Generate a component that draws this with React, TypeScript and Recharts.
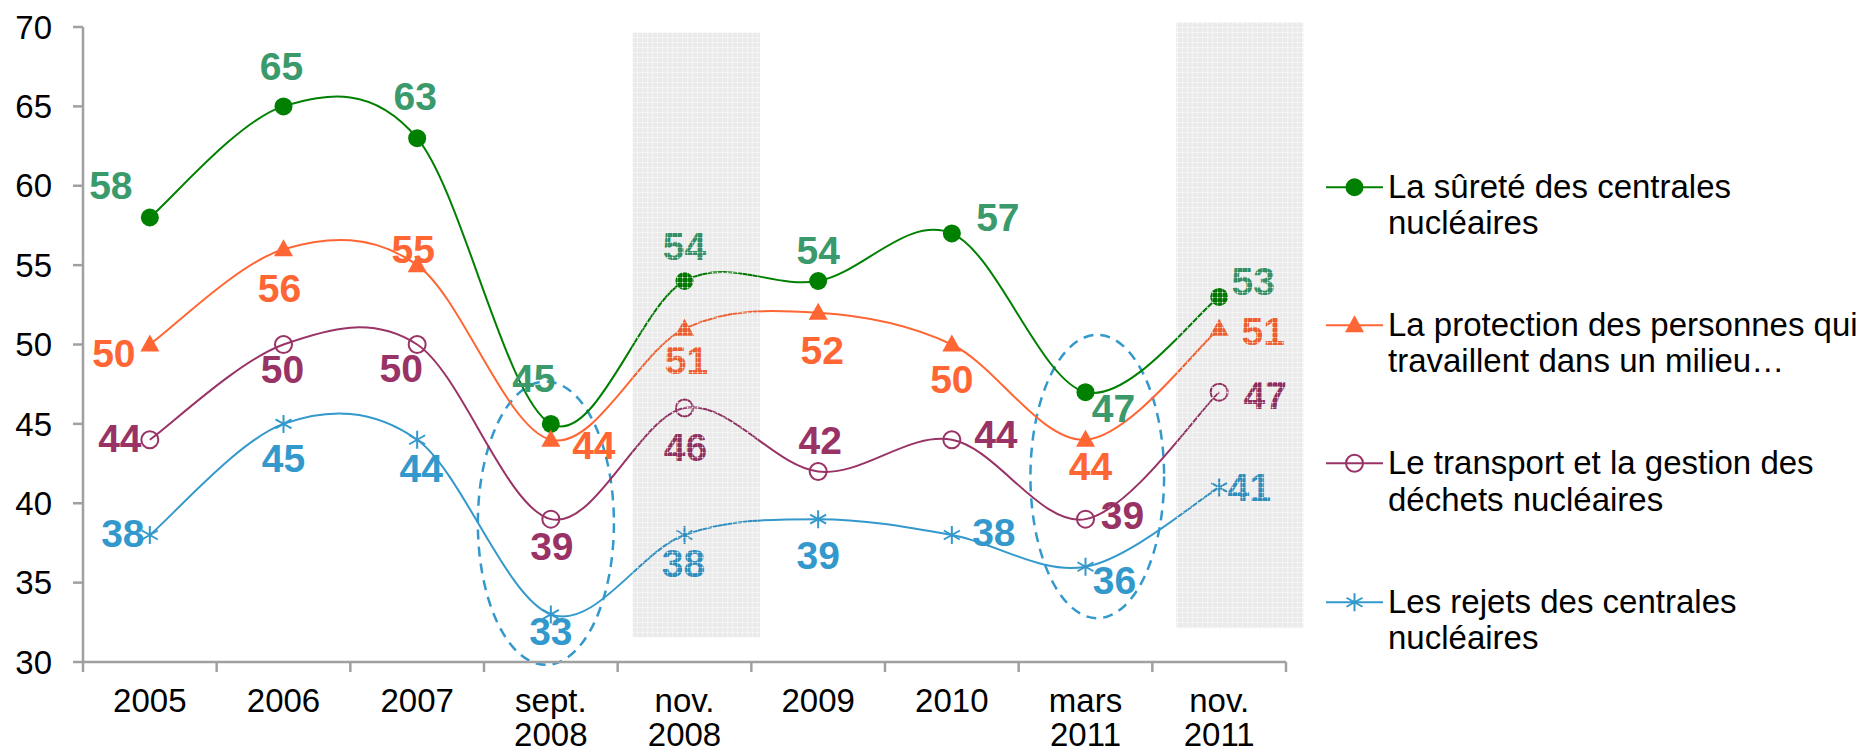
import React from 'react'
import { LineChart, Line, XAxis, YAxis, ReferenceArea } from 'recharts'

const categories = ['2005', '2006', '2007', 'sept.\n2008', 'nov.\n2008', '2009', '2010', 'mars\n2011', 'nov.\n2011']
const surete = [58, 65, 63, 45, 54, 54, 57, 47, 53]
const protection = [50, 56, 55, 44, 51, 52, 50, 44, 51]
const transport = [44, 50, 50, 39, 46, 42, 44, 39, 47]
const rejets = [38, 45, 44, 33, 38, 39, 38, 36, 41]
const yTicks = [30, 35, 40, 45, 50, 55, 60, 65, 70]

const legendSurete = ['La sûreté des centrales', 'nucléaires']
const legendProtection = ['La protection des personnes qui', 'travaillent dans un milieu…']
const legendTransport = ['Le transport et la gestion des', 'déchets nucléaires']
const legendRejets = ['Les rejets des centrales', 'nucléaires']

// where each value label sits relative to its point (px)
const offSurete = [[-39, -32], [-2, -40], [-2, -42], [-17, -46], [0, -35], [0, -31], [46, -16], [28, 16], [34, -16]]
const offProtection = [[-36, 9], [-4, 39], [-4, -16], [43, 6], [2, 32], [4, 38], [0, 35], [5, 27], [44, 3]]
const offTransport = [[-30, -1], [-1, 25], [-16, 24], [1, 27], [1, 39], [2, -31], [44, -5], [37, -4], [46, 3]]
const offRejets = [[-27, -2], [0, 34], [4, 29], [0, 17], [-1, 28], [0, 36], [42, -3], [29, 14], [30, 0]]

const data = categories.map((cat, i) => ({
  cat,
  surete: surete[i],
  protection: protection[i],
  transport: transport[i],
  rejets: rejets[i],
}))

const FONT = '"Liberation Sans", Arial, sans-serif'
const AXIS = '#A0A0A0'

const series = [
  { key: 'surete', legend: legendSurete, line: '#008000', text: '#3A9A6C', marker: 'dot', offsets: offSurete },
  { key: 'protection', legend: legendProtection, line: '#FF6633', text: '#FF6633', marker: 'triangle', offsets: offProtection },
  { key: 'transport', legend: legendTransport, line: '#993366', text: '#993366', marker: 'ring', offsets: offTransport },
  { key: 'rejets', legend: legendRejets, line: '#3399CC', text: '#3399CC', marker: 'star', offsets: offRejets },
]

// Excel-like smoothing (Catmull-Rom through every point)
function excelSmooth(context: any) {
  let pts: number[][] = []
  return {
    areaStart() {},
    areaEnd() {},
    lineStart() {
      pts = []
    },
    point(x: number, y: number) {
      pts.push([+x, +y])
    },
    lineEnd() {
      if (!pts.length) return
      context.moveTo(pts[0][0], pts[0][1])
      for (let i = 0; i < pts.length - 1; i++) {
        const p0 = pts[Math.max(i - 1, 0)]
        const p1 = pts[i]
        const p2 = pts[i + 1]
        const p3 = pts[Math.min(i + 2, pts.length - 1)]
        context.bezierCurveTo(
          p1[0] + (p2[0] - p0[0]) / 6,
          p1[1] + (p2[1] - p0[1]) / 6,
          p2[0] - (p3[0] - p1[0]) / 6,
          p2[1] - (p3[1] - p1[1]) / 6,
          p2[0],
          p2[1],
        )
      }
    },
  }
}

function Marker({ kind, cx, cy, color }: { kind: string; cx: number; cy: number; color: string }) {
  if (kind === 'dot') return <circle cx={cx} cy={cy} r={9} fill={color} />
  if (kind === 'triangle') return <path d={`M${cx},${cy - 10}L${cx + 9.5},${cy + 7}L${cx - 9.5},${cy + 7}Z`} fill={color} />
  if (kind === 'ring') return <circle cx={cx} cy={cy} r={8.5} fill="none" stroke={color} strokeWidth={2} />
  return (
    <path
      d={`M${cx},${cy - 9}V${cy + 9}M${cx - 8},${cy - 4.5}L${cx + 8},${cy + 4.5}M${cx - 8},${cy + 4.5}L${cx + 8},${cy - 4.5}`}
      stroke={color}
      strokeWidth={2}
      fill="none"
    />
  )
}

function makeDot(s: (typeof series)[number]) {
  return (p: any) => {
    const { cx, cy, index, value } = p
    const [dx, dy] = s.offsets[index] ?? [0, 0]
    const v = Array.isArray(value) ? value[1] : value
    return (
      <g key={`${s.key}-${index}`}>
        <Marker kind={s.marker} cx={cx} cy={cy} color={s.line} />
        <text
          x={cx + dx}
          y={cy + dy}
          dy="0.35em"
          textAnchor="middle"
          fontSize={39}
          fontWeight="bold"
          fontFamily={FONT}
          fill={s.text}
        >
          {v}
        </text>
      </g>
    )
  }
}

function CategoryTick(props: any) {
  const { x, y, payload, index } = props
  const half = payload?.offset || 66.8
  const lines = String(payload.value).split('\n')
  return (
    <g>
      <line x1={x - half} x2={x - half} y1={y - 10} y2={y} stroke={AXIS} strokeWidth={2.5} />
      {index === categories.length - 1 && <line x1={x + half} x2={x + half} y1={y - 10} y2={y} stroke={AXIS} strokeWidth={2.5} />}
      <text x={x} y={y + 40} textAnchor="middle" fontSize={33} fontFamily={FONT} fill="#000">
        {lines.map((l, i) => (
          <tspan key={i} x={x} dy={i === 0 ? 0 : 34}>
            {l}
          </tspan>
        ))}
      </text>
    </g>
  )
}

function Shade(p: any) {
  const { x, y, width, height, shift, scale, id } = p
  return (
    <g>
      <defs>
        <pattern id={id} width={5} height={5} patternUnits="userSpaceOnUse">
          <rect width={5} height={5} fill="rgba(0,0,0,0.08)" />
          <rect x={0} y={2} width={5} height={1} fill="rgba(255,255,255,0.3)" />
          <rect x={2} y={0} width={1} height={5} fill="rgba(255,255,255,0.3)" />
          <rect x={2} y={2} width={1.2} height={1.2} fill="rgba(255,255,255,0.95)" />
        </pattern>
      </defs>
      <rect x={x + width * shift} y={y} width={width * scale} height={height} fill={`url(#${id})`} />
    </g>
  )
}

function DashedEllipse(p: any) {
  const { x, y, width, height, shift, scale } = p
  return (
    <ellipse
      cx={x + width / 2 + width * shift}
      cy={y + height / 2}
      rx={(width / 2) * scale}
      ry={height / 2}
      fill="none"
      stroke="#3399CC"
      strokeWidth={2.5}
      strokeDasharray="10 7"
    />
  )
}

function LegendBlock() {
  return (
    <div style={{ position: 'absolute', left: 1326, top: 168.7, fontFamily: FONT, fontSize: 33, lineHeight: '36.5px', color: '#000' }}>
      {series.map((s, i) => (
        <div key={s.key} style={{ position: 'absolute', top: i * 138.3, left: 0, width: 545, display: 'flex' }}>
          <svg width={57} height={36.5} style={{ flex: 'none' }}>
            <line x1={0} x2={57} y1={18.25} y2={18.25} stroke={s.line} strokeWidth={2} />
            <Marker kind={s.marker} cx={28.5} cy={18.25} color={s.line} />
          </svg>
          <div style={{ marginLeft: 5, whiteSpace: 'nowrap' }}>
            {s.legend[0]}
            <br />
            {s.legend[1]}
          </div>
        </div>
      ))}
    </div>
  )
}

export default function App() {
  return (
    <div style={{ position: 'relative', width: 1876, height: 754, background: '#fff' }}>
      <style>{'body{margin:0}'}</style>
      <LineChart
        width={1876}
        height={754}
        data={data}
        margin={{ top: 27, right: 590, bottom: 0, left: 0 }}
        style={{ fontFamily: FONT }}
      >
        <XAxis
          dataKey="cat"
          scale="band"
          interval={0}
          height={92}
          tickLine={false}
          tickSize={10}
          tickMargin={0}
          axisLine={{ stroke: AXIS, strokeWidth: 2.5 }}
          tick={<CategoryTick />}
        />
        <YAxis
          domain={[30, 70]}
          ticks={yTicks}
          width={83}
          tickSize={10}
          tickMargin={21}
          axisLine={{ stroke: AXIS, strokeWidth: 2.5 }}
          tickLine={{ stroke: AXIS, strokeWidth: 2.5 }}
          tick={{ fontSize: 33, fill: '#000', fontFamily: FONT }}
        />
        <ReferenceArea
          x1={categories[3]}
          x2={categories[3]}
          y1={29.82}
          y2={47.67}
          ifOverflow="visible"
          shape={(p: any) => <DashedEllipse {...p} shift={-0.037} scale={1.018} />}
        />
        <ReferenceArea
          x1={categories[7]}
          x2={categories[7]}
          y1={32.76}
          y2={50.61}
          ifOverflow="visible"
          shape={(p: any) => <DashedEllipse {...p} shift={0.088} scale={1.0} />}
        />
        {series.map((s) => (
          <Line
            key={s.key}
            dataKey={s.key}
            type={excelSmooth as any}
            stroke={s.line}
            strokeWidth={2}
            dot={makeDot(s)}
            activeDot={false}
            isAnimationActive={false}
          />
        ))}
        <ReferenceArea
          x1={categories[4]}
          x2={categories[4]}
          y1={31.56}
          y2={69.66}
          ifOverflow="visible"
          zIndex={2500}
          shape={(p: any) => <Shade {...p} id="shade-a" shift={0.112} scale={0.953} />}
        />
        <ReferenceArea
          x1={categories[8]}
          x2={categories[8]}
          y1={32.13}
          y2={70.29}
          ifOverflow="visible"
          zIndex={2500}
          shape={(p: any) => <Shade {...p} id="shade-b" shift={0.179} scale={0.951} />}
        />
      </LineChart>
      <LegendBlock />
    </div>
  )
}
